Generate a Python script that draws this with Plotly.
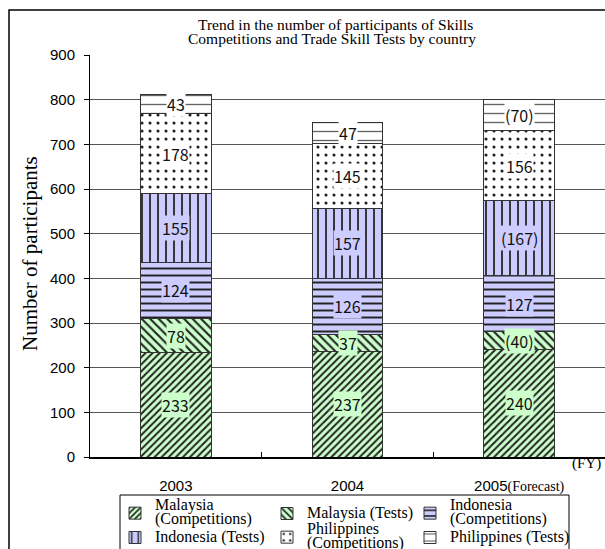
import plotly.graph_objects as go

years = ["2003", "2004", "2005"]
year_suffix = ["", "", "(Forecast)"]
series_names = [
    "Malaysia<br>(Competitions)",
    "Malaysia (Tests)",
    "Indonesia<br>(Competitions)",
    "Indonesia (Tests)",
    "Philippines<br>(Competitions)",
    "Philippines (Tests)",
]
malaysia_comp = [233, 237, 240]
malaysia_tests = [78, 37, 40]
indonesia_comp = [124, 126, 127]
indonesia_tests = [155, 157, 167]
philippines_comp = [178, 145, 156]
philippines_tests = [43, 47, 70]

malaysia_comp_lbl = ["233", "237", "240"]
malaysia_tests_lbl = ["78", "37", "(40)"]
indonesia_comp_lbl = ["124", "126", "127"]
indonesia_tests_lbl = ["155", "157", "(167)"]
philippines_comp_lbl = ["178", "145", "156"]
philippines_tests_lbl = ["43", "47", "(70)"]

values = [malaysia_comp, malaysia_tests, indonesia_comp, indonesia_tests,
          philippines_comp, philippines_tests]
labels = [malaysia_comp_lbl, malaysia_tests_lbl, indonesia_comp_lbl,
          indonesia_tests_lbl, philippines_comp_lbl, philippines_tests_lbl]

GREEN = "#ccffcc"
LAV = "#ccccff"
WHITE = "#ffffff"
styles = [
    dict(color=GREEN, shape="/", size=5, solidity=0.4, op=1.0),
    dict(color=GREEN, shape="\\", size=6, solidity=0.35, op=1.0),
    dict(color=LAV, shape="-", size=7, solidity=0.28, op=1.0),
    dict(color=LAV, shape="|", size=8, solidity=0.22, op=1.0),
    dict(color=WHITE, shape=".", size=8, solidity=0.12, op=1.0),
    dict(color=WHITE, shape="-", size=9, solidity=0.15, op=0.7),
]

serif = "Liberation Serif, Times New Roman, serif"
sans = "Liberation Sans, Arial, sans-serif"
LEG_SPAN = "<span style='font-size:16px'>{}</span>"

W, H = 605, 549
L, R, T, B = 90, 0, 55, 92
pw, ph = W - L - R, H - T - B


def px(x):
    return (x - L) / pw


def py(y):
    return (H - B - y) / ph


# legend grid (pixel positions of symbol centres / row centres)
leg_cols = [135, 287, 430]
leg_rows = [513.5, 537.5]
legend_ids = ["legend", "legend2", "legend3", "legend4", "legend5", "legend6"]

fig = go.Figure()
for k, (name, vals, st) in enumerate(zip(series_names, values, styles)):
    fig.add_trace(go.Bar(
        x=years, y=vals,
        name="<br>".join(LEG_SPAN.format(p) for p in name.split("<br>")),
        legend=legend_ids[k],
        width=0.41,
        marker=dict(color=st["color"],
                    line=dict(color="#333333", width=1),
                    pattern=dict(shape=st["shape"], size=st["size"],
                                 solidity=st["solidity"], fgcolor="#222222",
                                 fgopacity=st["op"],
                                 bgcolor=st["color"], fillmode="replace")),
        hoverinfo="skip",
    ))

# segment labels, centred on each stacked segment
annotations = []
base = [0, 0, 0]
for vals, lbls, st in zip(values, labels, styles):
    for i, (v, l) in enumerate(zip(vals, lbls)):
        annotations.append(dict(
            x=i, y=base[i] + v / 2, xref="x", yref="y", text=l,
            showarrow=False, bgcolor=st["color"], borderpad=0,
            font=dict(family="Noto Sans CJK JP", size=16, color="#111111"),
        ))
        base[i] += v

annotations += [
    dict(text="Trend in the number of participants of Skills", x=px(335), y=py(24.5),
         xref="paper", yref="paper", showarrow=False, xanchor="center", yanchor="middle",
         font=dict(family=serif, size=15.5, color="#000")),
    dict(text="Competitions and Trade Skill Tests by country", x=px(332), y=py(38.5),
         xref="paper", yref="paper", showarrow=False, xanchor="center", yanchor="middle",
         font=dict(family=serif, size=15.5, color="#000")),
    dict(text="Number of participants", x=px(30), y=py(254), textangle=-90,
         xref="paper", yref="paper", showarrow=False, xanchor="center", yanchor="middle",
         font=dict(family=serif, size=21, color="#000")),
    dict(text="(FY)", x=px(586), y=py(463),
         xref="paper", yref="paper", showarrow=False, xanchor="center", yanchor="middle",
         font=dict(family=serif, size=15, color="#000")),
]

ticktext = [y + ("<span style='font-family:Liberation Serif;font-size:14px'>%s</span>" % s if s else "")
            for y, s in zip(years, year_suffix)]

legends = {}
for k, lid in enumerate(legend_ids):
    col, row = k % 3, k // 3
    legends[lid] = dict(
        orientation="v", x=px(leg_cols[col] - 20), y=py(leg_rows[row]),
        xanchor="left", yanchor="middle", borderwidth=0,
        bgcolor="rgba(0,0,0,0)",
        font=dict(family=serif, size=10.5, color="#000"),
        itemclick=False, itemdoubleclick=False,
    )

fig.update_layout(
    width=W, height=H,
    margin=dict(l=L, r=R, t=T, b=B, pad=0, autoexpand=False),
    paper_bgcolor="white", plot_bgcolor="white",
    barmode="stack", bargap=0.59,
    showlegend=True,
    annotations=annotations,
    xaxis=dict(type="category", range=[-0.5, 2.5], showgrid=False,
               tickmode="array", tickvals=years, ticktext=ticktext,
               ticks="inside", tickson="boundaries", ticklen=5, tickcolor="#000",
               showline=True, linecolor="#000", linewidth=2,
               tickfont=dict(family=sans, size=15, color="#000"),
               ticklabelstandoff=14),
    yaxis=dict(range=[0, 900], dtick=100, showgrid=True, gridcolor="#555555", gridwidth=1,
               ticks="outside", ticklen=5, tickcolor="#000",
               showline=True, linecolor="#000", linewidth=1, zeroline=False,
               tickfont=dict(family=sans, size=15, color="#000"),
               ticklabelstandoff=6),
    shapes=[
        dict(type="rect", xref="paper", yref="paper", x0=px(9), x1=px(640),
             y0=py(10), y1=py(600), line=dict(color="#000", width=1.5),
             fillcolor="rgba(0,0,0,0)", layer="below"),
        dict(type="rect", xref="paper", yref="paper", x0=px(120), x1=px(569),
             y0=py(495), y1=py(560), line=dict(color="#000", width=1),
             fillcolor="rgba(0,0,0,0)", layer="above"),
    ],
    **legends,
)

fig.write_html("out.html")
